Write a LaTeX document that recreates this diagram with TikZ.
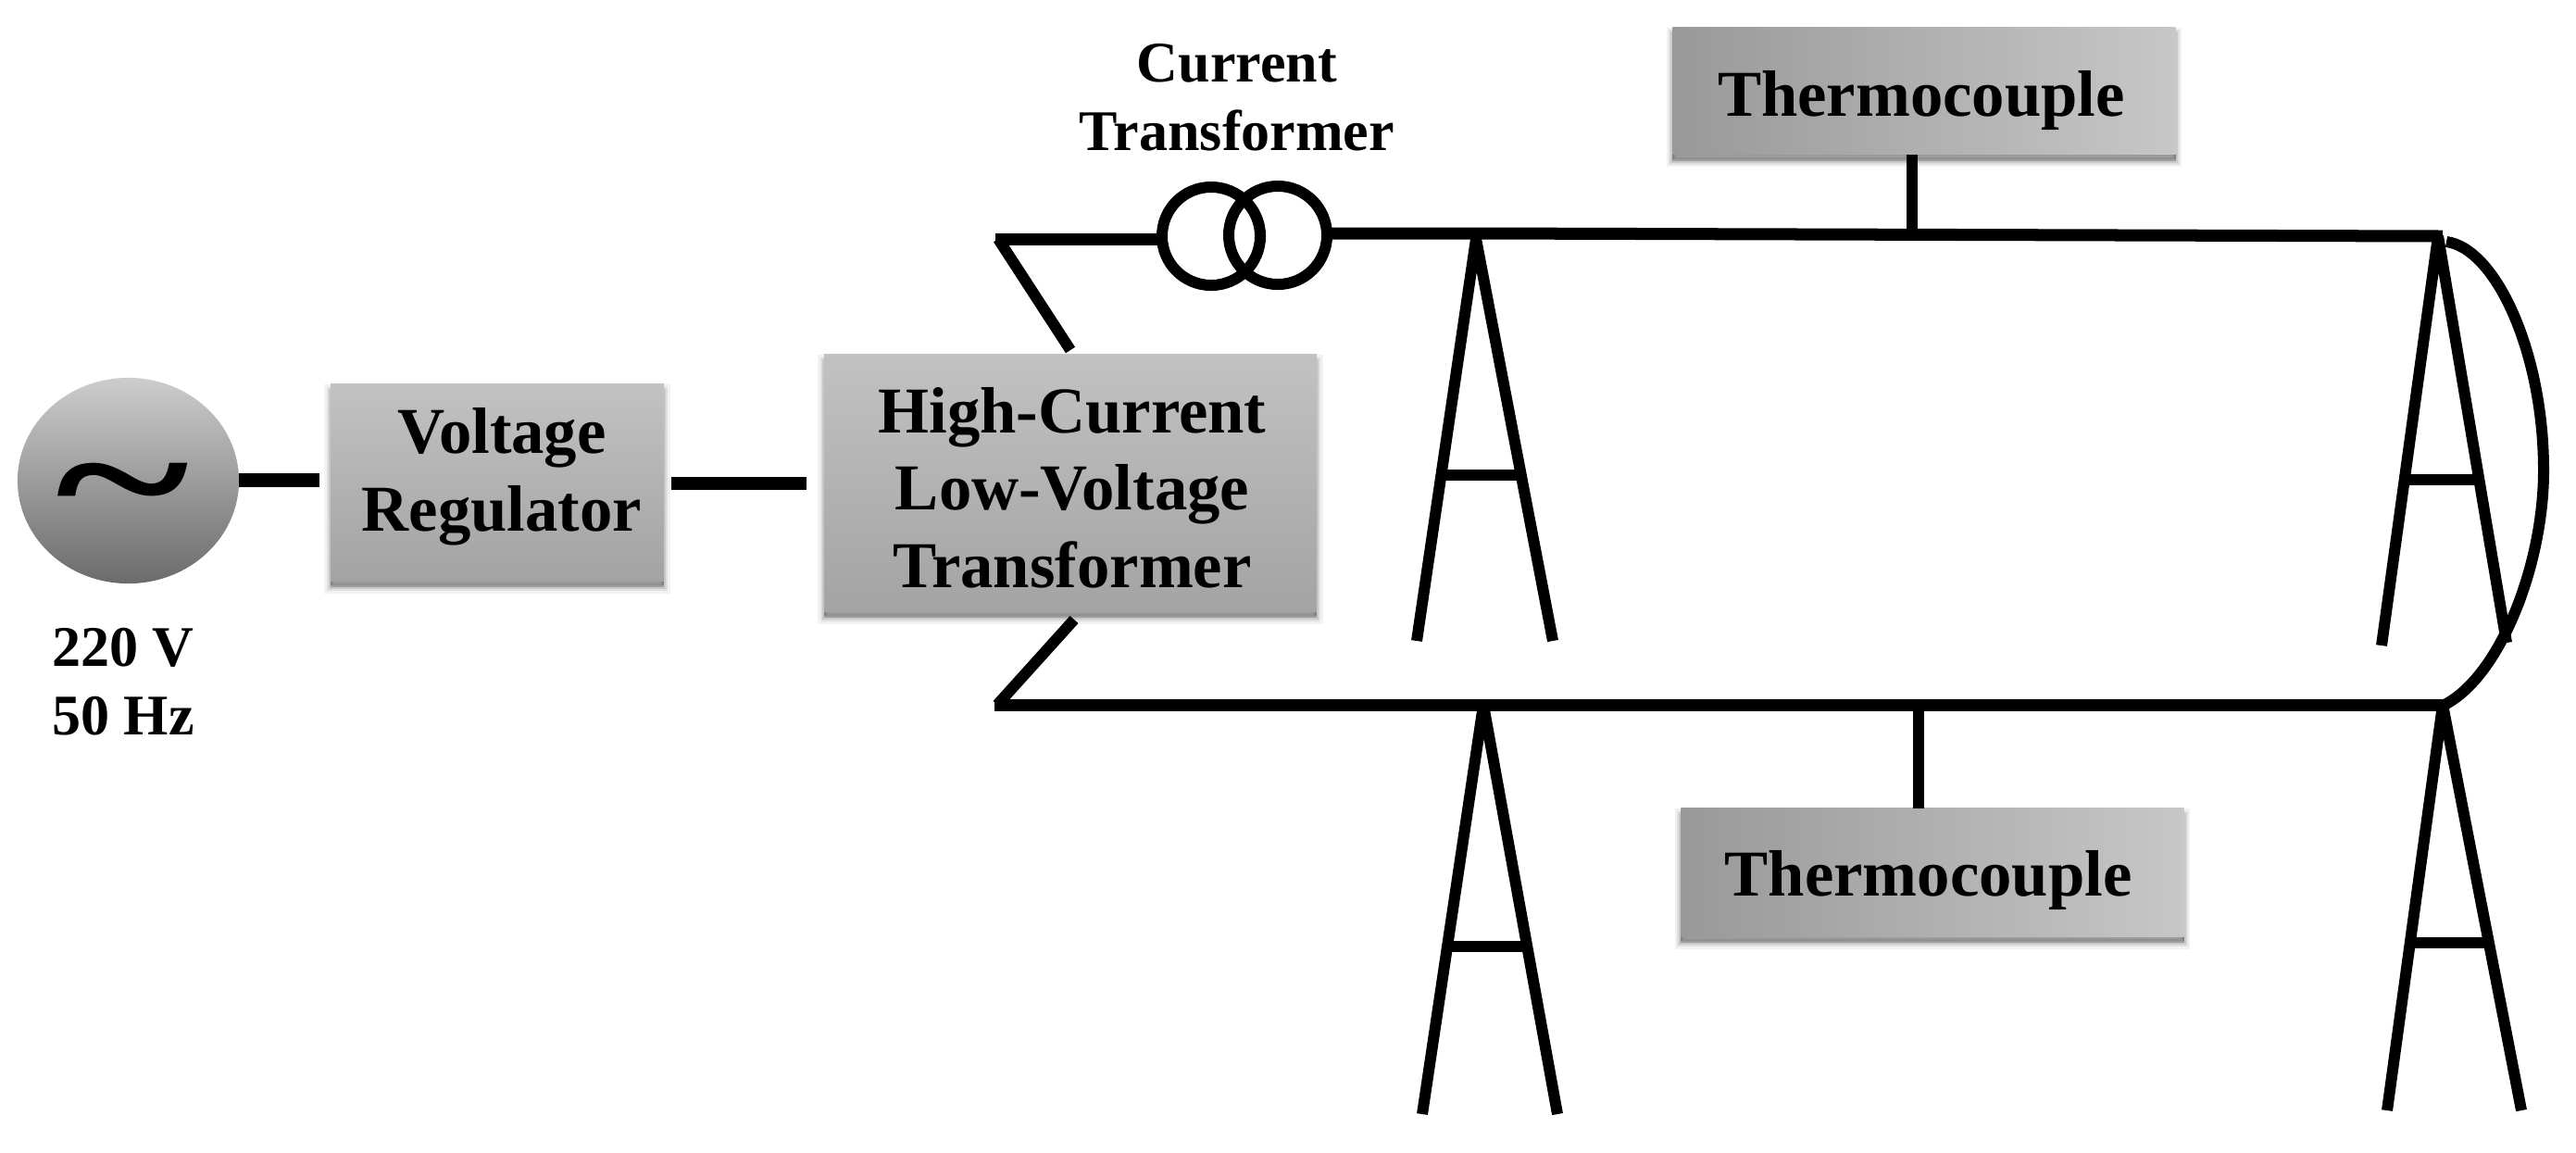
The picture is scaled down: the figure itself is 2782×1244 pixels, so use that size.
\documentclass[tikz,border=0pt]{standalone}
\usepackage{fontspec}
\setmainfont{Liberation Serif}
\usetikzlibrary{shapes.geometric,shadows}
\newdimen\pxu \pxu=0.28453pt
\newcommand\bigfont{\fontsize{20.1}{23.8}\selectfont\bfseries}
\newcommand\smallfont{\fontsize{17.65}{20.9}\selectfont\bfseries}
% lines of text; the last baseline lies #2 px below the node's centre, shifted right by #1/2
\newcommand\lines[3][0]{\hspace*{#1\pxu}\raisebox{-#2\pxu}[0pt][0pt]{\begin{tabular}[b]{@{}c@{}}#3\end{tabular}}}
\tikzset{
  softshadow/.style={
    drop shadow={shadow xshift=0pt,shadow yshift=-7\pxu,opacity=.05,fill=black,draw=black,line width=13\pxu},
    drop shadow={shadow xshift=0pt,shadow yshift=-7\pxu,opacity=.07,fill=black,draw=black,line width=8\pxu},
    drop shadow={shadow xshift=0pt,shadow yshift=-7\pxu,opacity=.10,fill=black,draw=black,line width=4\pxu},
    drop shadow={shadow xshift=0pt,shadow yshift=-5\pxu,opacity=.18,fill=black}},
  vbox/.style={rectangle,inner sep=0pt,outer sep=0pt,softshadow,top color=boxtop,bottom color=boxbot,font=\bigfont},
  hbox/.style={rectangle,inner sep=0pt,outer sep=0pt,softshadow,left color=thermoL,right color=thermoR,font=\bigfont},
  wire/.style={line width=13\pxu,black,line join=bevel},
  thin wire/.style={line width=12\pxu,black,line join=bevel},
  plain label/.style={inner sep=0pt,outer sep=0pt,font=\smallfont},
  coilring/.style={circle,draw=black,line width=12\pxu,minimum size=106\pxu,inner sep=0pt,outer sep=0pt}
}
\definecolor{boxtop}{gray}{0.76}
\definecolor{boxbot}{gray}{0.64}
\definecolor{thermoL}{gray}{0.60}
\definecolor{thermoR}{gray}{0.78}
\definecolor{srctop}{gray}{0.80}
\definecolor{srcbot}{gray}{0.42}
\begin{document}
\begin{tikzpicture}[x=0.01cm,y=-0.01cm]
\useasboundingbox[fill=white] (0,0) rectangle (2782,1244);

% source
\node[ellipse,inner sep=0pt,outer sep=0pt,minimum width=239\pxu,minimum height=222\pxu,top color=srctop,bottom color=srcbot] (src) at (138.5,519) {};
\node[inner sep=0pt,font=\fontsize{75}{75}\selectfont\bfseries] (tilde) at (133,540) {\scalebox{1.05}[0.72]{\char"007E}};
\node[plain label] (srclabel) at (133,793) {\lines{0}{220 V\\50 Hz}};

% boxes
\node[vbox,minimum width=360\pxu,minimum height=212\pxu] (vr) at (537,521) {\lines[10]{52}{Voltage\\Regulator}};
\node[vbox,minimum width=532\pxu,minimum height=277\pxu] (hc) at (1156,521.5) {\lines[4]{113}{High-Current\\Low-Voltage\\Transformer}};
\node[hbox,minimum width=543\pxu,minimum height=137\pxu] (th1) at (2078,98) {\lines[-6]{27}{Thermocouple}};
\node[hbox,minimum width=543\pxu,minimum height=138\pxu] (th2) at (2087,942) {\lines[-9]{25}{Thermocouple}};

% current transformer
\node[plain label] (ctlabel) at (1336,162) {\lines{0}{Current\\Transformer}};
\node[coilring] (ct1) at (1308,255) {};
\node[coilring] (ct2) at (1380,254) {};

% named end points
\coordinate (srcR) at (258,518);
\coordinate (vrL) at (345,518);
\coordinate (vrR) at (725,522);
\coordinate (hcL) at (871,522);
\coordinate (hcT) at (1156,378);
\coordinate (jT) at (1078,258);
\coordinate (hcB) at (1160,669);
\coordinate (jB) at (1077,761);
\coordinate (endT) at (2638,255);
\coordinate (endB) at (2640,761);
\coordinate (stem1) at (2065,255);
\coordinate (stem2) at (2072,761);

% feed lines
\draw[wire,line width=15\pxu] (srcR) -- (vrL);
\draw[wire,line width=14\pxu] (vrR) -- (hcL);
\draw[thin wire] (hcT) -- (jT);
\draw[wire] ([xshift=-3\pxu]jT) -- (ct1.west |- jT);
\draw[wire] (ct2.east |- 0,252) -- (1600,252) -- (endT);
\draw[thin wire] (hcB) -- (jB);
\draw[wire] ([xshift=-3\pxu]jB) -- (endB);
\draw[thin wire] (th1.south -| stem1) -- (stem1);
\draw[thin wire] (stem2) -- (th2.north -| stem2);

% towers
\draw[thin wire] (1530,692) coordinate (t1l) -- (1594,258) coordinate (t1a) -- (1677,692) coordinate (t1r);
\draw[thin wire] (1556,513) coordinate (t1bl) -- (1643,513) coordinate (t1br);
\draw[thin wire] (2572,697) coordinate (t2l) -- (2633,255) coordinate (t2a) -- (2707,694) coordinate (t2r);
\draw[thin wire] (2597,518) coordinate (t2bl) -- (2677,518) coordinate (t2br);
\draw[thin wire] (1536,1203) coordinate (t3l) -- (1602,761) coordinate (t3a) -- (1682,1203) coordinate (t3r);
\draw[thin wire] (1563,1022) coordinate (t3bl) -- (1649,1022) coordinate (t3br);
\draw[thin wire] (2578,1199) coordinate (t4l) -- (2638,761) coordinate (t4a) -- (2723,1199) coordinate (t4r);
\draw[thin wire] (2603,1018) coordinate (t4bl) -- (2688,1018) coordinate (t4br);

% return loop
\coordinate (arcT) at (2642,261);
\coordinate (arcM) at (2747,508);
\draw[thin wire] (arcT) .. controls (2695,268) and (2747,380) .. (arcM) .. controls (2747,610) and (2700,730) .. (endB);
\end{tikzpicture}
\end{document}
